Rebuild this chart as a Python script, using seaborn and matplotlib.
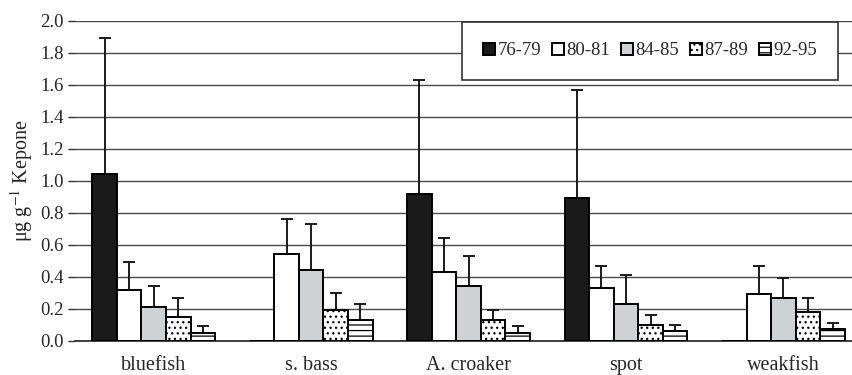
# Kepone concentration by species and period - grouped bars with upper error bars
import numpy as np
import pandas as pd
import matplotlib
matplotlib.use("Agg")
import matplotlib.pyplot as plt
import seaborn as sns

# ==========================================
# DATA
# ==========================================

species = ["bluefish", "s. bass", "A. croaker", "spot", "weakfish"]
periods = ["76-79", "80-81", "84-85", "87-89", "92-95"]

# mean values per period, in species order
mean_7679 = [1.04, 0.00, 0.92, 0.89, 0.00]
mean_8081 = [0.32, 0.54, 0.43, 0.33, 0.29]
mean_8485 = [0.21, 0.44, 0.34, 0.23, 0.27]
mean_8789 = [0.15, 0.19, 0.13, 0.10, 0.18]
mean_9295 = [0.05, 0.13, 0.05, 0.06, 0.07]

# top of the error bar (None = no bar drawn)
top_7679 = [1.89, None, 1.63, 1.57, None]
top_8081 = [0.49, 0.76, 0.64, 0.47, 0.47]
top_8485 = [0.34, 0.73, 0.53, 0.41, 0.39]
top_8789 = [0.27, 0.30, 0.19, 0.16, 0.27]
top_9295 = [0.09, 0.23, 0.09, 0.10, 0.11]

means = [mean_7679, mean_8081, mean_8485, mean_8789, mean_9295]
tops = [top_7679, top_8081, top_8485, top_8789, top_9295]

fills = ["#1a1a1a", "white", "#cfd2d4", "white", "white"]
hatches = ["", "", "", "...", "---"]

rows = []
for p, vals in zip(periods, means):
    for s, v in zip(species, vals):
        rows.append({"species": s, "period": p, "value": v})
df = pd.DataFrame(rows)

# ==========================================
# PLOT
# ==========================================

sns.set_style("white")
plt.rcParams["font.family"] = ["Liberation Serif", "DejaVu Serif"]
plt.rcParams["mathtext.fontset"] = "stix"
plt.rcParams["hatch.linewidth"] = 0.9

fig = plt.figure(figsize=(8.52, 3.75), dpi=100)
ax = fig.add_axes([0.088, 0.0915, 0.924, 0.853])

sns.barplot(
    data=df, x="species", y="value", hue="period",
    order=species, hue_order=periods,
    palette=dict(zip(periods, fills)),
    width=0.78, edgecolor="black", linewidth=1.4,
    saturation=1, legend=False, ax=ax, zorder=3
)

bar_groups = list(ax.containers)

for cont, h, tlist, vals in zip(bar_groups, hatches, tops, means):
    xs, ys, errs = [], [], []
    for bar, t, v in zip(cont.patches, tlist, vals):
        bar.set_hatch(h)
        bar.set_zorder(3)
        if t is not None:
            xs.append(bar.get_x() + bar.get_width() / 2)
            ys.append(v)
            errs.append(t - v)
    ax.errorbar(
        xs, ys, yerr=[np.zeros(len(errs)), errs], fmt="none",
        ecolor="#1a1a1a", elinewidth=1.4, capsize=4.5, capthick=1.4,
        zorder=2
    )

ax.set_ylim(0, 2.0)
ax.set_xlim(-0.5, 4.5)
ax.set_yticks(np.arange(0, 2.01, 0.2))
ax.set_yticklabels([f"{v:.1f}" for v in np.arange(0, 2.01, 0.2)], fontsize=13.5)
ax.yaxis.grid(True, color="#4a4a4a", linewidth=1.0)
ax.set_axisbelow(True)

ax.set_xticks(range(len(species)))
ax.set_xticklabels(species, fontsize=14.5)
ax.set_xticks(np.arange(-0.5, 4.6, 1.0), minor=True)
ax.tick_params(axis="x", which="major", length=0, pad=11)
ax.tick_params(axis="x", which="minor", length=5, width=1, color="#333", direction="out")
ax.tick_params(axis="y", length=5, width=1, color="#333", direction="out", left=True, pad=3)

for side in ["left", "top", "right"]:
    ax.spines[side].set_visible(False)
ax.spines["bottom"].set_color("#222")
ax.spines["bottom"].set_linewidth(1.2)

ax.set_xlabel("")
ax.set_ylabel(r"μg g$^{-1}$ Kepone", fontsize=14.5, labelpad=4)

handles = [cont.patches[0] for cont in bar_groups]
leg = ax.legend(
    handles, periods, ncol=5, loc="upper left",
    bbox_to_anchor=(462 / 852, 0.942, 376 / 852, 0),
    bbox_transform=fig.transFigure, mode="expand",
    fontsize=13.5, frameon=True, fancybox=False, framealpha=1,
    edgecolor="#333", borderpad=1.1, borderaxespad=0,
    handlelength=0.65, handleheight=0.65, handletextpad=0.15,
    columnspacing=1.0
)
leg.get_frame().set_linewidth(1.2)

fig.savefig("out.png", dpi=100)
